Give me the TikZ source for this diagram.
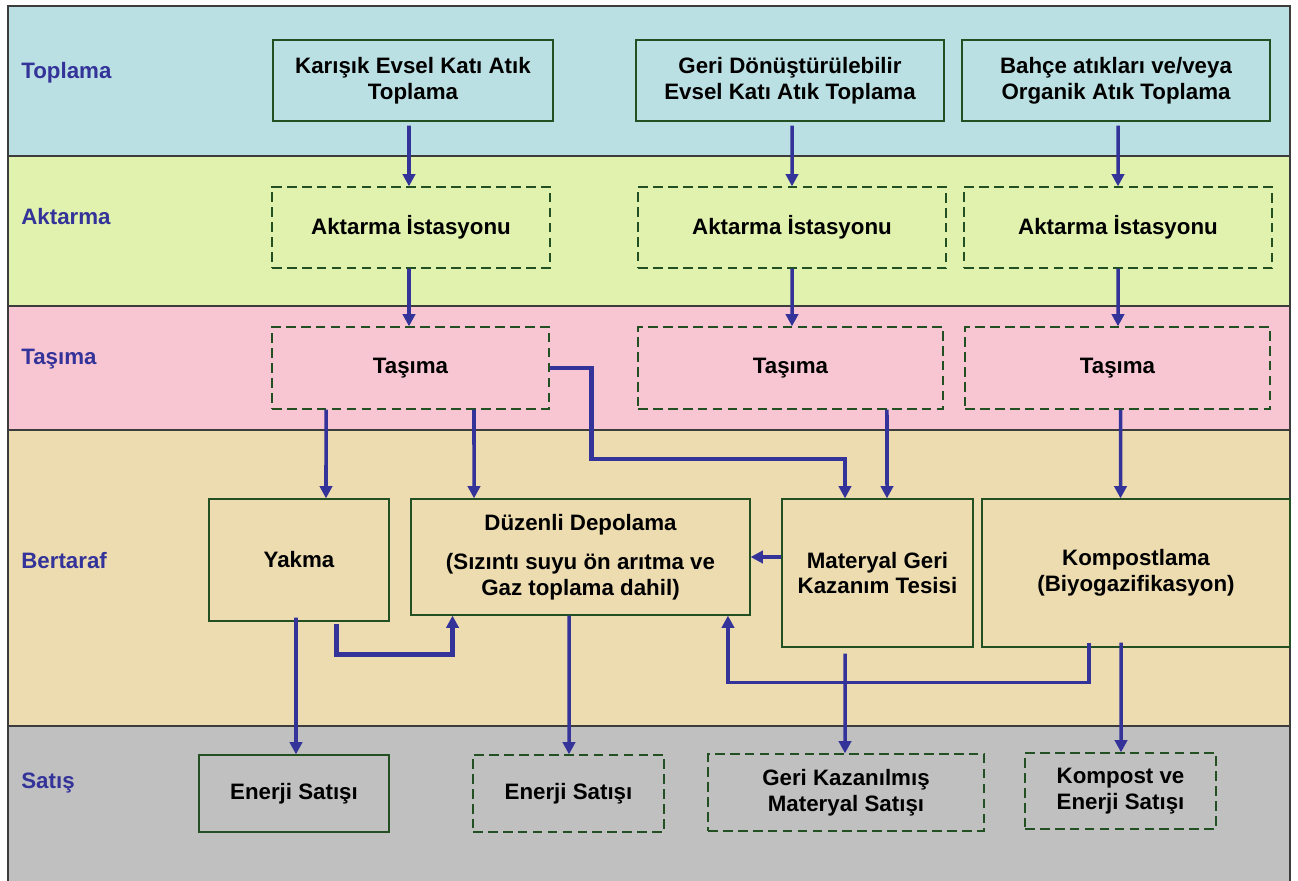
\documentclass[tikz,border=0pt]{standalone}
\usepackage{fontspec}
\setmainfont{Liberation Sans}
\usetikzlibrary{arrows.meta}
\definecolor{toplamabg}{RGB}{187,224,227}
\definecolor{aktarmabg}{RGB}{224,242,173}
\definecolor{tasimabg}{RGB}{248,198,211}
\definecolor{bertarafbg}{RGB}{237,220,176}
\definecolor{satisbg}{RGB}{192,192,192}
\definecolor{flowblue}{RGB}{51,51,153}
\definecolor{boxline}{RGB}{35,80,35}
\definecolor{laneline}{RGB}{60,60,60}

\begin{document}
\begin{tikzpicture}[x=0.02cm, y=-0.02cm,
  box/.style={rectangle, draw=boxline, line width=0.7pt, align=center, inner sep=2pt, font=\fontsize{12.7}{14.6}\selectfont\bfseries},
  dbox/.style={box, dash pattern=on 5.5pt off 3pt},
  flow/.style={draw=flowblue, line width=2pt, -{Triangle[length=7pt,width=7pt]}},
  bigflow/.style={flow, line width=2.8pt},
  lanelabel/.style={anchor=base west, inner sep=0pt, text=flowblue, font=\fontsize{12.7}{15}\selectfont\bfseries}]
\useasboundingbox (0,0) rectangle (1298,881);

\fill[toplamabg] (8,6) rectangle (1290,156);
\fill[aktarmabg] (8,156) rectangle (1290,306);
\fill[tasimabg] (8,306) rectangle (1290,430);
\fill[bertarafbg] (8,430) rectangle (1290,726);
\fill[satisbg] (8,726) rectangle (1290,881);
\draw[laneline, line width=1.1pt] (8,881) -- (8,6) -- (1290,6) -- (1290,881);
\foreach \y in {156,306,430,726}
  \draw[laneline, line width=1.1pt] (8,\y) -- (1290,\y);

\node (ltoplama) [lanelabel] at (21,79) {Toplama};
\node (laktarma) [lanelabel] at (21,225) {Aktarma};
\node (ltasima) [lanelabel] at (21,365) {Taşıma};
\node (lbertaraf) [lanelabel] at (21,568) {Bertaraf};
\node (lsatis) [lanelabel] at (21,788) {Satış};

\node (top1) [box, minimum width=5.6cm, minimum height=1.62cm] at (413,80.5) {Karışık Evsel Katı Atık\\Toplama};
\node (top2) [box, minimum width=6.16cm, minimum height=1.62cm] at (790,80.5) {Geri Dönüştürülebilir\\Evsel Katı Atık Toplama};
\node (top3) [box, minimum width=6.16cm, minimum height=1.62cm] at (1116,80.5) {Bahçe atıkları ve/veya\\Organik Atık Toplama};

\node (akt1) [dbox, minimum width=5.56cm, minimum height=1.62cm] at (411,227.5) {Aktarma İstasyonu};
\node (akt2) [dbox, minimum width=6.16cm, minimum height=1.62cm] at (792,227.5) {Aktarma İstasyonu};
\node (akt3) [dbox, minimum width=6.16cm, minimum height=1.62cm] at (1118,227.5) {Aktarma İstasyonu};

\node (tas1) [dbox, minimum width=5.54cm, minimum height=1.64cm] at (410.5,368) {Taşıma};
\node (tas2) [dbox, minimum width=6.1cm, minimum height=1.64cm] at (790.5,368) {Taşıma};
\node (tas3) [dbox, minimum width=6.1cm, minimum height=1.64cm] at (1117.5,368) {Taşıma};

\node (yakma) [box, minimum width=3.6cm, minimum height=2.44cm] at (299,560) {Yakma};
\node (duz) [box, minimum width=6.78cm, minimum height=2.32cm] at (580.5,557) {Düzenli Depolama\\[8pt](Sızıntı suyu ön arıtma ve\\Gaz toplama dahil)};
\node (mgkt) [box, minimum width=3.82cm, minimum height=2.96cm] at (877.5,573) {Materyal Geri\\Kazanım Tesisi};
\node (komp) [box, minimum width=6.16cm, minimum height=2.96cm] at (1136,573) {Kompostlama\\(Biyogazifikasyon)};

\node (en1) [box, minimum width=3.8cm, minimum height=1.54cm] at (294,793.5) {Enerji Satışı};
\node (en2) [dbox, minimum width=3.82cm, minimum height=1.54cm] at (568.5,793.5) {Enerji Satışı};
\node (gkm) [dbox, minimum width=5.52cm, minimum height=1.54cm] at (846,792.5) {Geri Kazanılmış\\Materyal Satışı};
\node (kev) [dbox, minimum width=3.82cm, minimum height=1.52cm] at (1120.5,791) {Kompost ve\\Enerji Satışı};

\draw[flow] ([xshift=-0.08cm,yshift=-0.08cm]top1.south) -- ([xshift=-0.04cm]akt1.north);
\draw[flow] ([xshift=0.04cm,yshift=-0.08cm]top2.south) -- (akt2.north);
\draw[flow] ([xshift=0.04cm,yshift=-0.08cm]top3.south) -- (akt3.north);
\draw[flow] ([xshift=-0.04cm]akt1.south) -- ([xshift=-0.03cm]tas1.north);
\draw[flow] (akt2.south) -- ([xshift=0.03cm]tas2.north);
\draw[flow] (akt3.south) -- ([xshift=0.01cm]tas3.north);
\draw[flow] ([xshift=-1.69cm]tas1.south) -- ([xshift=0.54cm]yakma.north);
\draw[flow] ([xshift=1.27cm]tas1.south) -- ([xshift=-2.13cm]duz.north);
\draw[bigflow] (tas1.east) -- ++(0.84cm,0) -- ++(0,-1.82cm) -| ([xshift=-0.65cm]mgkt.north);
\draw[flow] ([xshift=1.93cm]tas2.south) -- ([xshift=0.19cm]mgkt.north);
\draw[flow] ([xshift=0.06cm]tas3.south) -- ([xshift=-0.31cm]komp.north);
\draw[flow] (mgkt.west |- duz.east) -- (duz.east);
\draw[bigflow] ([xshift=0.75cm,yshift=-0.04cm]yakma.south) -- ++(0,-0.62cm) -| ([xshift=-2.56cm]duz.south);
\draw[flow] ([xshift=-0.94cm,yshift=0.1cm]komp.south) -- ++(0,-0.8cm) -| ([xshift=2.95cm]duz.south);
\draw[flow] ([xshift=-0.06cm,yshift=0.08cm]yakma.south) -- ([xshift=0.04cm]en1.north);
\draw[flow] ([xshift=-0.23cm]duz.south) -- ([xshift=0.01cm]en2.north);
\draw[flow] ([xshift=-0.65cm,yshift=-0.12cm]mgkt.south) -- ([xshift=-0.02cm]gkm.north);
\draw[flow] ([xshift=-0.3cm,yshift=0.1cm]komp.south) -- ([xshift=0.01cm]kev.north);
\end{tikzpicture}
\end{document}
